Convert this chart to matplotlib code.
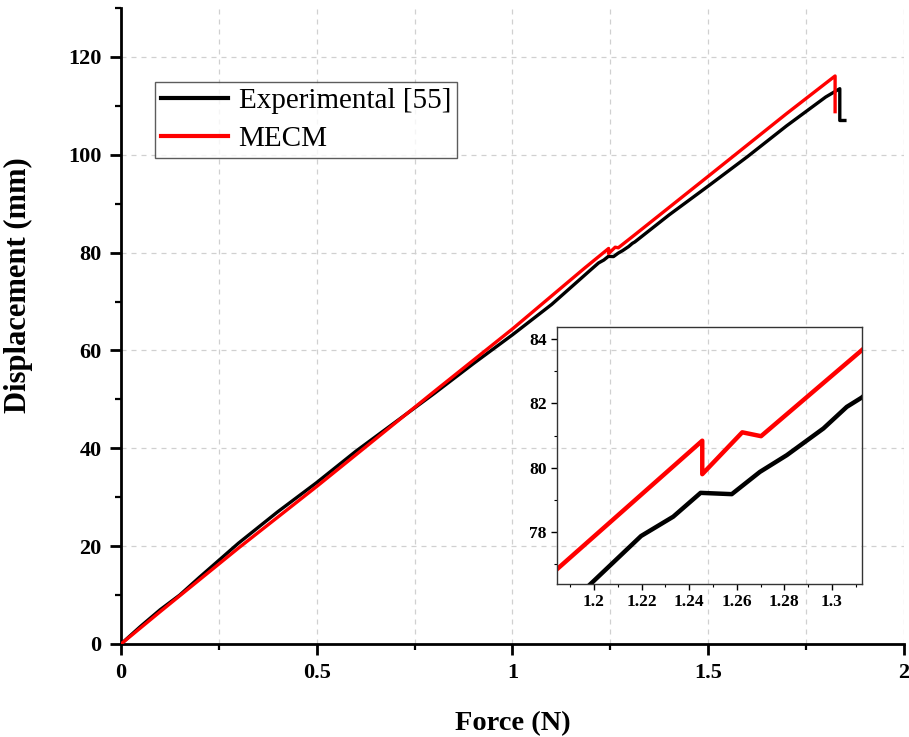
import matplotlib
matplotlib.use("Agg")
import matplotlib.pyplot as plt
from matplotlib.ticker import MultipleLocator

plt.rcParams['font.family'] = ['Liberation Serif', 'DejaVu Serif']

# Experimental [55]
exp_force = [0.0, 0.05, 0.1, 0.15, 0.2, 0.3, 0.4, 0.5, 0.6, 0.7, 0.8, 0.9, 1.0, 1.1, 1.198,
             1.2198, 1.2333, 1.2448, 1.2579, 1.2697, 1.281, 1.2964, 1.3062, 1.3125,
             1.4, 1.5, 1.6, 1.7, 1.8, 1.836, 1.836, 1.849]
exp_disp = [0.0, 3.6, 7.0, 10.0, 13.6, 20.6, 27.0, 33.0, 39.4, 45.3, 51.2, 57.3, 63.2, 69.4, 76.35,
            77.88, 78.48, 79.22, 79.18, 79.87, 80.39, 81.22, 81.89, 82.18,
            87.7, 93.6, 99.6, 105.9, 111.8, 113.5, 107.0, 107.0]

# MECM
mecm_force = [0.0, 0.1, 0.3, 0.5, 0.8, 1.0, 1.1845, 1.2455, 1.2455, 1.2623, 1.2702,
              1.3125, 1.5, 1.7, 1.824, 1.824]
mecm_disp = [0.0, 6.6, 19.6, 32.2, 51.6, 64.4, 76.85, 80.84, 79.8, 81.1, 80.98,
             83.65, 95.6, 108.4, 116.1, 108.8]

fig = plt.figure(figsize=(9.09, 7.37), dpi=100)
ax = fig.add_axes([0.1331, 0.1262, 0.8614, 0.863])
ax.plot(exp_force, exp_disp, color='black', lw=2.4, label='Experimental [55]', zorder=3)
ax.plot(mecm_force, mecm_disp, color='#ff0000', lw=2.4, label='MECM', zorder=4)
ax.set_xlim(0, 2)
ax.set_ylim(0, 130)
ax.xaxis.set_major_locator(MultipleLocator(0.5))
ax.xaxis.set_minor_locator(MultipleLocator(0.25))
ax.yaxis.set_major_locator(MultipleLocator(20))
ax.yaxis.set_minor_locator(MultipleLocator(10))
ax.set_xticks([0, 0.5, 1, 1.5, 2])
ax.set_xticklabels(['0', '0.5', '1', '1.5', '2'])
ax.grid(True, which='major', axis='y', color='#d0d0d0', ls=(0, (4, 4)), lw=0.9)
ax.grid(True, which='both', axis='x', color='#d0d0d0', ls=(0, (4, 4)), lw=0.9)
for s in ['top', 'right']:
    ax.spines[s].set_visible(False)
for s in ['left', 'bottom']:
    ax.spines[s].set_linewidth(2.0)
ax.tick_params(which='major', direction='out', length=8, width=2.0, labelsize=16, pad=6)
ax.tick_params(which='minor', direction='out', length=4.5, width=1.6)
for lab in ax.get_xticklabels() + ax.get_yticklabels():
    lab.set_fontweight('bold')
ax.set_xlabel('Force (N)', fontsize=20.5, fontweight='bold', labelpad=20)
ax.set_ylabel('Displacement (mm)', fontsize=22, fontweight='bold')
ax.yaxis.set_label_coords(-0.113, 0.564)
leg = ax.legend(loc='upper left', bbox_to_anchor=(0.044, 0.884), fontsize=21, frameon=True,
                fancybox=False, edgecolor='#333333', handlelength=2.3, borderpad=0.2,
                labelspacing=0.4, handletextpad=0.35, borderaxespad=0)
leg.get_frame().set_linewidth(1.0)
for line in leg.get_lines():
    line.set_linewidth(3)

# inset
ins = fig.add_axes([0.6128, 0.2076, 0.3355, 0.3487])
ins.patch.set_alpha(0.0)
ins.plot(exp_force, exp_disp, color='black', lw=3.2)
ins.plot(mecm_force, mecm_disp, color='#ff0000', lw=3.2)
ins.set_xlim(1.1845, 1.3126)
ins.set_ylim(76.39, 84.37)
ins.xaxis.set_major_locator(MultipleLocator(0.02))
ins.xaxis.set_minor_locator(MultipleLocator(0.01))
ins.yaxis.set_major_locator(MultipleLocator(2))
ins.yaxis.set_minor_locator(MultipleLocator(1))
ins.set_xticks([1.2, 1.22, 1.24, 1.26, 1.28, 1.3])
ins.set_xticklabels(['1.2', '1.22', '1.24', '1.26', '1.28', '1.3'])
ins.set_yticks([78, 80, 82, 84])
ins.set_yticklabels(['78', '80', '82', '84'])
for s in ins.spines.values():
    s.set_linewidth(1.0)
    s.set_color('#333333')
ins.tick_params(which='major', direction='out', length=4, width=1.0, labelsize=12.5)
ins.tick_params(which='minor', direction='out', length=2.5, width=0.8)
for lab in ins.get_xticklabels() + ins.get_yticklabels():
    lab.set_fontweight('bold')

fig.savefig('out.png', dpi=100)
